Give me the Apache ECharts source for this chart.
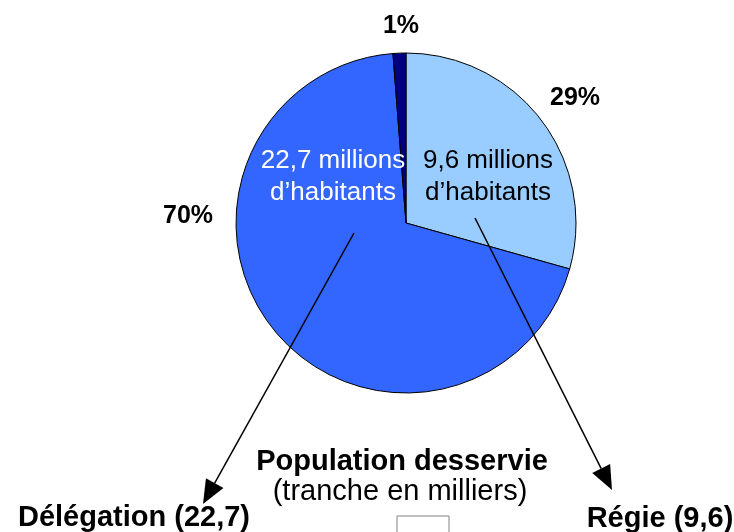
<!DOCTYPE html>
<html>
<head>
<meta charset="utf-8">
<script src="https://cdn.jsdelivr.net/npm/echarts@6/dist/echarts.min.js"></script>
<style>
  html, body { margin: 0; padding: 0; background: #fff; }
  #chart { width: 734px; height: 532px; }
</style>
</head>
<body>
<div id="chart"></div>
<script>
// population desservie, millions d'habitants
var names = ['Régie', 'Délégation', 'Autre'];
var values = [9.6, 22.7, 0.4];
var colors = ['#99CCFF', '#3366FF', '#000080'];
var innerColors = ['#000000', '#FFFFFF', null];

var FONT = '"Liberation Sans", Arial, sans-serif';
var center = [406, 223];
var radius = 170;

// label anchor points (middle of text)
var pctPos = [[575, 98], [188, 216], [401, 26]];
var innerPos = [[488, 177], [333, 177], null];

function fmt(v) {
    return String(v).replace('.', ',');
}

var pieData = names.map(function (n, i) {
    return { name: n, value: values[i], itemStyle: { color: colors[i] } };
});

var innerData = names.map(function (n, i) {
    return {
        name: n,
        value: values[i],
        label: innerColors[i] ? {
            show: true,
            color: innerColors[i],
            formatter: fmt(values[i]) + ' millions\nd\u2019habitants'
        } : { show: false }
    };
});

function arrow(x1, y1, x2, y2) {
    var dx = x2 - x1, dy = y2 - y1;
    var len = Math.sqrt(dx * dx + dy * dy);
    var ux = dx / len, uy = dy / len;
    var L = 24, W = 10;
    var bx = x2 - ux * L, by = y2 - uy * L;
    return [
        { type: 'line', shape: { x1: x1, y1: y1, x2: bx, y2: by }, style: { stroke: '#000', lineWidth: 1.5 }, z: 10 },
        { type: 'polygon', shape: { points: [[x2, y2], [bx - uy * W, by + ux * W], [bx + uy * W, by - ux * W]] }, style: { fill: '#000' }, z: 10 }
    ];
}

var graphics = []
    .concat(arrow(354, 233, 203, 504))
    .concat(arrow(475, 218, 612, 490))
    .concat([
        { type: 'text', x: 402, y: 462, style: { text: 'Population desservie', font: 'bold 29px ' + FONT, fill: '#000', align: 'center', verticalAlign: 'middle' } },
        { type: 'text', x: 400, y: 492, style: { text: '(tranche en milliers)', font: '29px ' + FONT, fill: '#000', align: 'center', verticalAlign: 'middle' } },
        { type: 'text', x: 134, y: 518, style: { text: names[1] + ' (' + fmt(values[1]) + ')', font: 'bold 29px ' + FONT, fill: '#000', align: 'center', verticalAlign: 'middle' } },
        { type: 'text', x: 660, y: 519, style: { text: names[0] + ' (' + fmt(values[0]) + ')', font: 'bold 29px ' + FONT, fill: '#000', align: 'center', verticalAlign: 'middle' } },
        { type: 'rect', shape: { x: 397, y: 516, width: 52, height: 30 }, style: { fill: '#fff', stroke: '#808080', lineWidth: 1 } }
    ]);

var option = {
    animation: false,
    backgroundColor: '#fff',
    graphic: graphics,
    series: [
        {
            type: 'pie',
            center: center,
            radius: radius,
            startAngle: 90,
            clockwise: true,
            percentPrecision: 0,
            avoidLabelOverlap: false,
            silent: true,
            itemStyle: { borderColor: '#000', borderWidth: 1 },
            label: {
                show: true,
                position: 'outside',
                formatter: '{d}%',
                fontFamily: FONT,
                fontWeight: 'bold',
                fontSize: 25,
                color: '#000'
            },
            labelLine: { show: false },
            labelLayout: function (p) {
                var pos = pctPos[p.dataIndex];
                return { x: pos[0], y: pos[1], align: 'center', verticalAlign: 'middle' };
            },
            data: pieData
        },
        {
            type: 'pie',
            center: center,
            radius: radius,
            startAngle: 90,
            clockwise: true,
            avoidLabelOverlap: false,
            silent: true,
            itemStyle: { color: 'rgba(0,0,0,0)', borderWidth: 0 },
            label: {
                position: 'inside',
                fontFamily: FONT,
                fontSize: 26,
                lineHeight: 32,
                align: 'center'
            },
            labelLine: { show: false },
            labelLayout: function (p) {
                var pos = innerPos[p.dataIndex];
                if (!pos) return {};
                return { x: pos[0], y: pos[1], align: 'center', verticalAlign: 'middle' };
            },
            data: innerData
        }
    ]
};

window.onload = function () {
    var chart = echarts.init(document.getElementById('chart'));
    chart.setOption(option);
};
</script>
</body>
</html>
